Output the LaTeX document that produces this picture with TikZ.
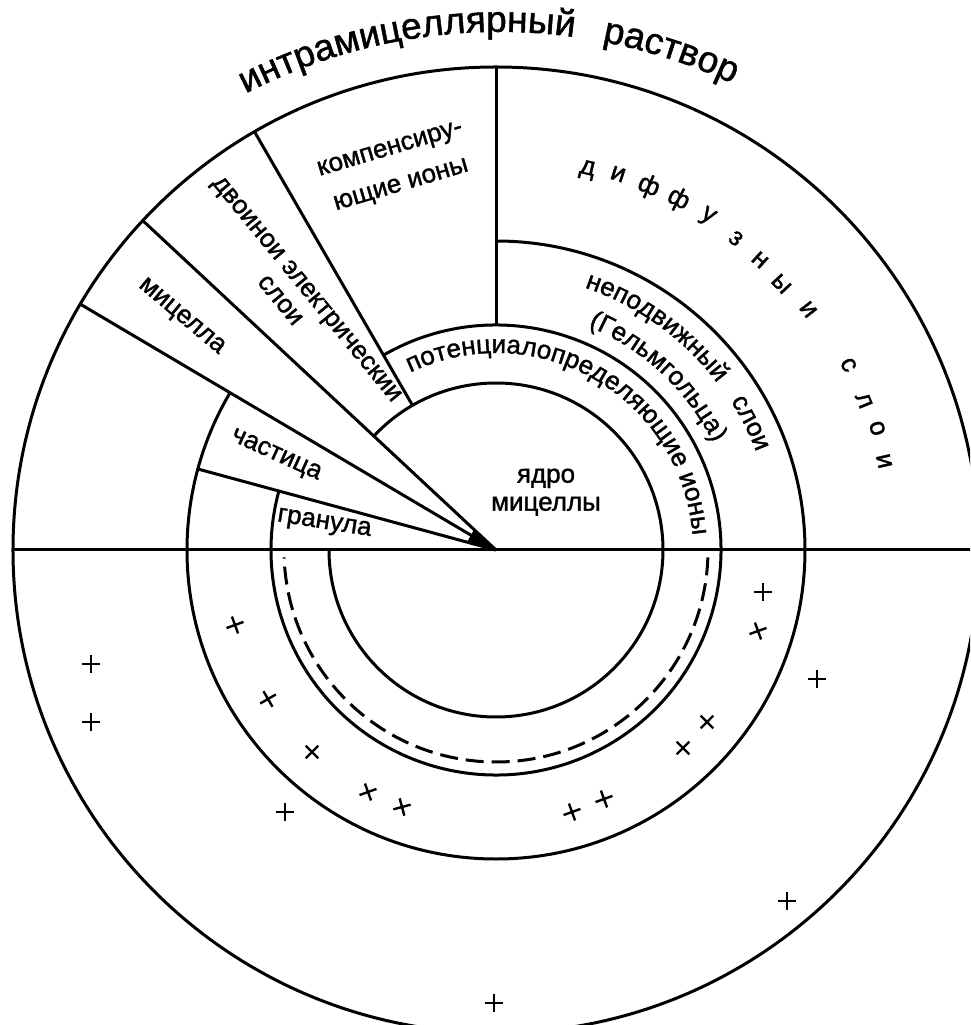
\documentclass[tikz,border=0pt]{standalone}
\usepackage{fontspec}
\setmainfont{Liberation Sans}[FakeBold=1.3]
\usetikzlibrary{decorations.text}
\newcommand{\lblfont}{\fontsize{26}{30}\selectfont}
\newcommand{\ttlfont}{\fontsize{37}{40}\selectfont}
\begin{document}
\begin{tikzpicture}[x=1pt,y=1pt,
  ln/.style={line width=3pt},
  lbl/.style={font=\lblfont, inner sep=0pt, text height=1ex, text depth=0pt},
  plusmark/.pic={\draw[line width=2.4pt] (-9,0)--(9,0) (0,-9)--(0,9);}]
\useasboundingbox (-496,-475) rectangle (474,550);
\clip (-496,-475) rectangle (474,550);
\fill[white] (-496,-475) rectangle (474,550);

% circles and arcs
\draw[ln] (0,0) circle[radius=483];
\draw[ln] (-483,0) -- (483,0);
\draw[ln] (137:167) arc[start angle=137,end angle=-180,radius=167];
\draw[ln] (120:225) arc[start angle=120,end angle=-180,radius=225];
\draw[ln] (164.8:225) arc[start angle=164.8,end angle=180,radius=225];
\draw[ln] (90:309) arc[start angle=90,end angle=-180,radius=309];
\draw[ln] (149.4:309) arc[start angle=149.4,end angle=180,radius=309];
\draw[ln, dash pattern=on 18pt off 8pt] (-2:212) arc[start angle=-2,end angle=-178,radius=212];

% rays
\coordinate (c) at (0,0);
\draw[ln] (90:225) -- (90:483);
\draw[ln] (c) -- (164.8:309);
\draw[ln] (c) -- (149.4:483);
\draw[ln] (c) -- (137:483);
\draw[ln] (120:167) -- (120:483);
\fill (c) -- (164.8:30) -- (137:30) -- cycle;

% title
\path[decorate, decoration={text along path, text={|\ttlfont|интрамицеллярный}, text align=center}]
  [shift={(3,-34)}] (159.75:552) arc[start angle=159.75,end angle=39.75,radius=552];
\path[decorate, decoration={text along path, text={|\ttlfont|раствор}, text align=center}]
  [shift={(3,-34)}] (132.1:552) arc[start angle=132.1,end angle=12.1,radius=552];

% curved labels
\path[decorate, decoration={text along path, text={|\lblfont|потенциалопределяющие ионы}, text align=center}]
  (150:197) arc[start angle=150,end angle=-30,radius=197];
\path[decorate, decoration={text along path, text={|\lblfont|неподвижный}, text align=center}]
  (114.2:277) arc[start angle=114.2,end angle=-5.8,radius=277];
\path[decorate, decoration={text along path, text={|\lblfont|слои}, text align=center}]
  (86.5:278) arc[start angle=86.5,end angle=-33.5,radius=278];
\path[decorate, decoration={text along path, text={|\lblfont|(Гельмгольца)}, text align=center}]
  (106.9:242) arc[start angle=106.9,end angle=-13.1,radius=242];

% diffuse layer, letter by letter
\foreach \a/\r/\t [count=\i] in {76.5/389/д,72/391/и,67.2/390/ф,62.5/391/ф,57.6/393/у,52.4/389/з,47.7/388/н,43/386/ы,37.6/390/и,27.7/394/с,22.1/393/л,17.7/396/о,12.9/394/и}
  \node[lbl, rotate=\a-90] (dif\i) at (\a:\r) {\t};

% straight labels
\node[lbl] (yadro) at (50,70) {ядро};
\node[lbl] (mic2) at (50,42) {мицеллы};
\node[lbl, rotate=16.5] (komp1) at (-105,398) {компенсиру-};
\node[lbl, rotate=16.5] (komp2) at (-94,362) {ющие ионы};
\node[lbl, rotate=-50.6] (dvoi1) at (-192,258.5) {двоинои электрическии};
\node[lbl, rotate=-50.6] (dvoi2) at (-219,247) {слои};
\node[lbl, rotate=-40] (mic) at (-316,231.5) {мицелла};
\node[lbl, rotate=-24.4] (chast) at (-221,92.5) {частица};
\node[lbl, rotate=-9] (gran) at (-172,24) {гранула};

% charges
\foreach \x/\y/\r in {-261/-75/20,-405/-114/0,-405/-172/0,-228/-149/30,-184/-202/45,-128/-242/20,-94/-257/15,-211/-262/0,-2/-453/0,267/-42/0,262/-81/20,321/-129/0,211/-172/45,187/-198/45,108/-249/20,76/-262/20,291/-351/0}
  \pic[rotate=\r] at (\x,\y) {plusmark};
\end{tikzpicture}
\end{document}
